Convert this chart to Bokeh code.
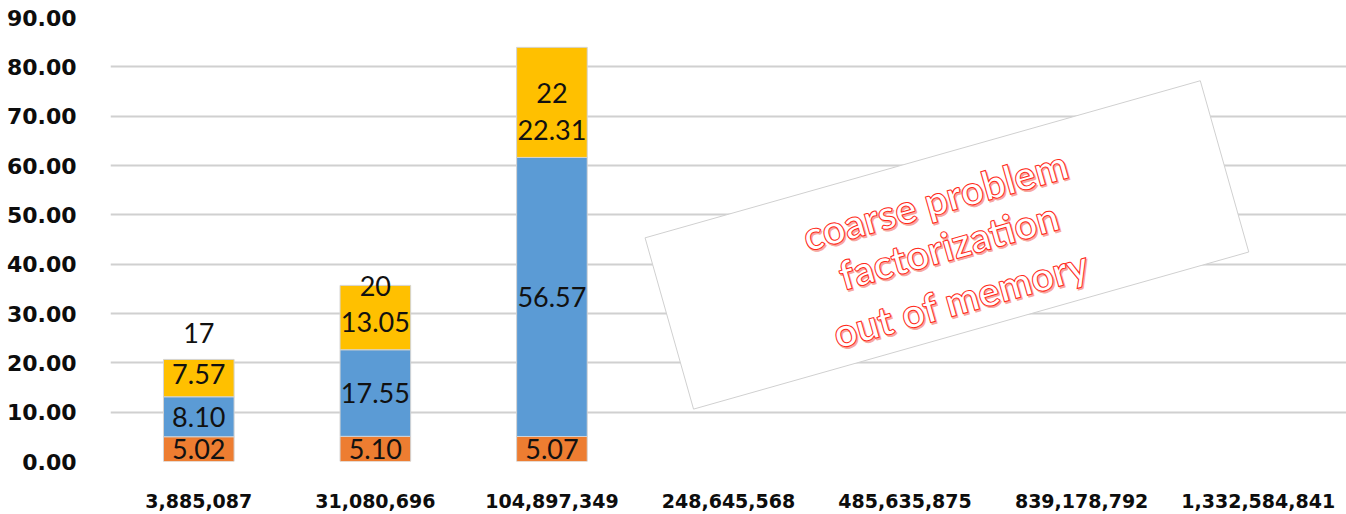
from bokeh.plotting import figure
from bokeh.models import ColumnDataSource, FactorRange, Range1d, SingleIntervalTicker, NumeralTickFormatter
from bokeh.transform import dodge
from bokeh.core.properties import value
from bokeh.embed import file_html
from bokeh.resources import INLINE
import math

categories = ["3,885,087", "31,080,696", "104,897,349", "248,645,568",
              "485,635,875", "839,178,792", "1,332,584,841"]
orange_vals = [5.02, 5.10, 5.07, None, None, None, None]
blue_vals = [8.10, 17.55, 56.57, None, None, None, None]
yellow_vals = [7.57, 13.05, 22.31, None, None, None, None]
iter_counts = [17, 20, 22]
iter_label_y = [26.0, 35.5, 74.6]
yellow_label_shift = [0.8, -0.8, -5.7]
note_lines = ["coarse problem", "factorization", "out of memory"]

LABEL_FONT = "Lato"
AXIS_FONT = "DejaVu Sans"

n = sum(v is not None for v in orange_vals)
src = ColumnDataSource(dict(cat=categories[:n], orange=orange_vals[:n],
                            blue=blue_vals[:n], yellow=yellow_vals[:n]))

p = figure(width=1346, height=514, x_range=FactorRange(*categories, range_padding=0),
           y_range=Range1d(0, 90), output_backend="svg", toolbar_location=None,
           min_border_left=110, min_border_right=0, min_border_top=17, min_border_bottom=53)
p.outline_line_color = None
p.background_fill_color = "white"
p.border_fill_color = "white"

p.xgrid.grid_line_color = None
p.ygrid.grid_line_color = "#d0d0d0"
p.ygrid.grid_line_width = 2

p.vbar_stack(["orange", "blue", "yellow"], x="cat", width=0.40, source=src,
             color=["#ED7D31", "#5B9BD5", "#FFC000"], line_color="#d4d4d4", line_width=1)

# segment labels
lx, ly, lt = [], [], []
for i in range(n):
    o, b, y = orange_vals[i], blue_vals[i], yellow_vals[i]
    for base, v, sh in ((0, o, 0), (o, b, 0), (o + b, y, yellow_label_shift[i])):
        lx.append(categories[i]); ly.append(base + v / 2 + sh); lt.append(f"{v:.2f}")
p.text(x=lx, y=ly, text=lt, text_align="center", text_baseline="middle",
       text_font=value(LABEL_FONT), text_font_size="27px", text_color="#111111")
p.text(x=categories[:n], y=iter_label_y, text=[str(c) for c in iter_counts],
       text_align="center", text_baseline="middle",
       text_font=value(LABEL_FONT), text_font_size="27px", text_color="#111111")

# rotated note box
ang = math.radians(15.8)
box_src = ColumnDataSource(dict(c=["485,635,875"], y=[43.9]))
p.rect(x=dodge("c", 0.237, range=p.x_range), y="y", source=box_src, width=577, height=178,
       width_units="screen", height_units="screen", angle=ang,
       fill_color="white", line_color="#d0d0d0", line_width=1)
offs = [0.170, 0.246, 0.316]
ys = [53.0, 43.8, 33.0]
for line, o, yy in zip(note_lines, offs, ys):
    s = ColumnDataSource(dict(c=["485,635,875"], y=[yy], t=[line]))
    s2 = ColumnDataSource(dict(c=["485,635,875"], y=[yy - 0.35], t=[line]))
    p.text(x=dodge("c", o + 0.008, range=p.x_range), y="y", text="t", source=s2, angle=ang,
           text_align="center", text_baseline="middle", text_font=value(LABEL_FONT),
           text_font_size="40px", text_font_style="bold", text_color="#f7a8a0",
           text_outline_color="#f7a8a0")
    p.text(x=dodge("c", o, range=p.x_range), y="y", text="t", source=s, angle=ang,
           text_align="center", text_baseline="middle", text_font=value(LABEL_FONT),
           text_font_size="40px", text_font_style="bold", text_color="white",
           text_outline_color="#FF2A1A")

p.yaxis.ticker = SingleIntervalTicker(interval=10)
p.yaxis.formatter = NumeralTickFormatter(format="0.00")
for ax in (p.xaxis[0], p.yaxis[0]):
    ax.axis_line_color = None
    ax.major_tick_line_color = None
    ax.minor_tick_line_color = None
    ax.major_label_text_font = AXIS_FONT
    ax.major_label_text_font_style = "bold"
    ax.major_label_text_color = "#0d0d0d"
p.yaxis.major_label_text_font_size = "22px"
p.yaxis.major_label_standoff = 28
p.xaxis.major_label_text_font_size = "19px"
p.xaxis.major_label_standoff = 26

open("out.html", "w").write(file_html(p, INLINE))
